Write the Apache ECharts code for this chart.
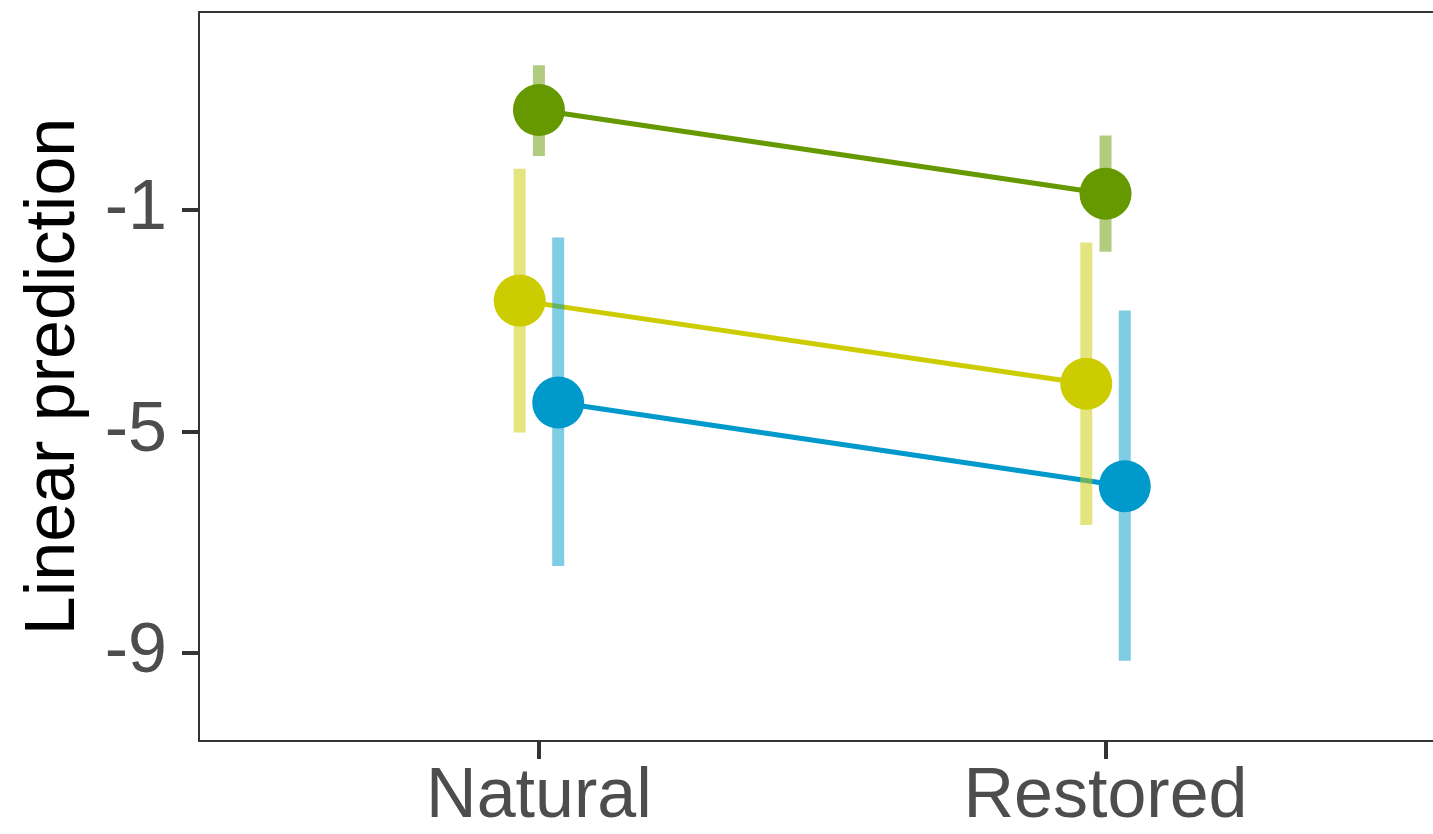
<!DOCTYPE html>
<html><head><meta charset="utf-8">
<script src="https://cdn.jsdelivr.net/npm/echarts@6/dist/echarts.min.js"></script>
<style>html,body{margin:0;padding:0;background:#fff;overflow:hidden}#c{width:1433px;height:834px}</style>
</head><body><div id="c"></div>
<script>
const categories = ['Natural', 'Restored'];
const groupNames = ['Green', 'Yellow', 'Blue'];
const groupColors = ['#669900', '#cccc00', '#0099cc'];
const barColors = ['rgba(102,153,0,0.5)', 'rgba(204,204,0,0.5)', 'rgba(0,153,204,0.5)'];
const dodge = [0, -0.034, 0.034];
const estimate = [[0.80, -0.71], [-2.64, -4.14], [-4.48, -5.99]];
const lower = [[-0.03, -1.76], [-5.02, -6.69], [-7.43, -9.14]];
const upper = [[1.61, 0.34], [-0.26, -1.59], [-1.50, -2.82]];
const yTicks = [-9, -5, -1];

const chart = echarts.init(document.getElementById('c'), null, {renderer: 'canvas'});
const series = [];
groupNames.forEach((g, gi) => {
  const pts = categories.map((c, ci) => [ci + 1 + dodge[gi], estimate[gi][ci]]);
  series.push({type: 'line', name: g, data: pts, symbol: 'none', z: 1,
    lineStyle: {color: groupColors[gi], width: 5}, silent: true});
});
groupNames.forEach((g, gi) => {
  const bars = categories.map((c, ci) => [ci + 1 + dodge[gi], lower[gi][ci], upper[gi][ci]]);
  series.push({type: 'custom', name: g + ' CI', data: bars, z: 2, silent: true,
    renderItem: (params, api) => {
      const p1 = api.coord([api.value(0), api.value(1)]);
      const p2 = api.coord([api.value(0), api.value(2)]);
      return {type: 'line', shape: {x1: p1[0], y1: p1[1], x2: p2[0], y2: p2[1]},
        style: {stroke: barColors[gi], lineWidth: 12, lineCap: 'butt'}};
    },
    encode: {x: 0, y: [1, 2]}});
});
groupNames.forEach((g, gi) => {
  const pts = categories.map((c, ci) => [ci + 1 + dodge[gi], estimate[gi][ci]]);
  series.push({type: 'scatter', name: g, data: pts, z: 3, symbolSize: 52,
    itemStyle: {color: groupColors[gi], opacity: 1}});
});

const font = 'Liberation Sans, Arial';
chart.setOption({
  animation: false,
  backgroundColor: '#fff',
  grid: {left: 199, top: 12, right: 0, bottom: 93, show: false},
  xAxis: [{type: 'value', min: 0.4, max: 2.578, position: 'bottom',
    axisLine: {show: true, onZero: false, lineStyle: {color: '#333', width: 2}},
    axisTick: {show: true, customValues: [1, 2], length: 18, lineStyle: {color: '#333', width: 4}},
    axisLabel: {customValues: [1, 2], formatter: v => categories[Math.round(v) - 1] || '',
      color: '#4d4d4d', fontSize: 70, fontFamily: font, margin: 22},
    splitLine: {show: false}},
    {type: 'value', min: 0.4, max: 2.578, position: 'top',
    axisLine: {show: true, onZero: false, lineStyle: {color: '#333', width: 2}},
    axisTick: {show: false}, axisLabel: {show: false}, splitLine: {show: false}}],
  yAxis: {type: 'value', min: -10.59, max: 2.57,
    name: 'Linear prediction', nameLocation: 'middle', nameGap: 109, nameRotate: 90,
    nameTextStyle: {color: '#000', fontSize: 70, fontFamily: font},
    axisLine: {show: true, onZero: false, lineStyle: {color: '#333', width: 2}},
    axisTick: {show: true, customValues: yTicks, length: 17, lineStyle: {color: '#333', width: 4}},
    axisLabel: {customValues: yTicks, color: '#4d4d4d', fontSize: 70, fontFamily: font, margin: 32},
    splitLine: {show: false}},
  series: series
});
</script></body></html>
